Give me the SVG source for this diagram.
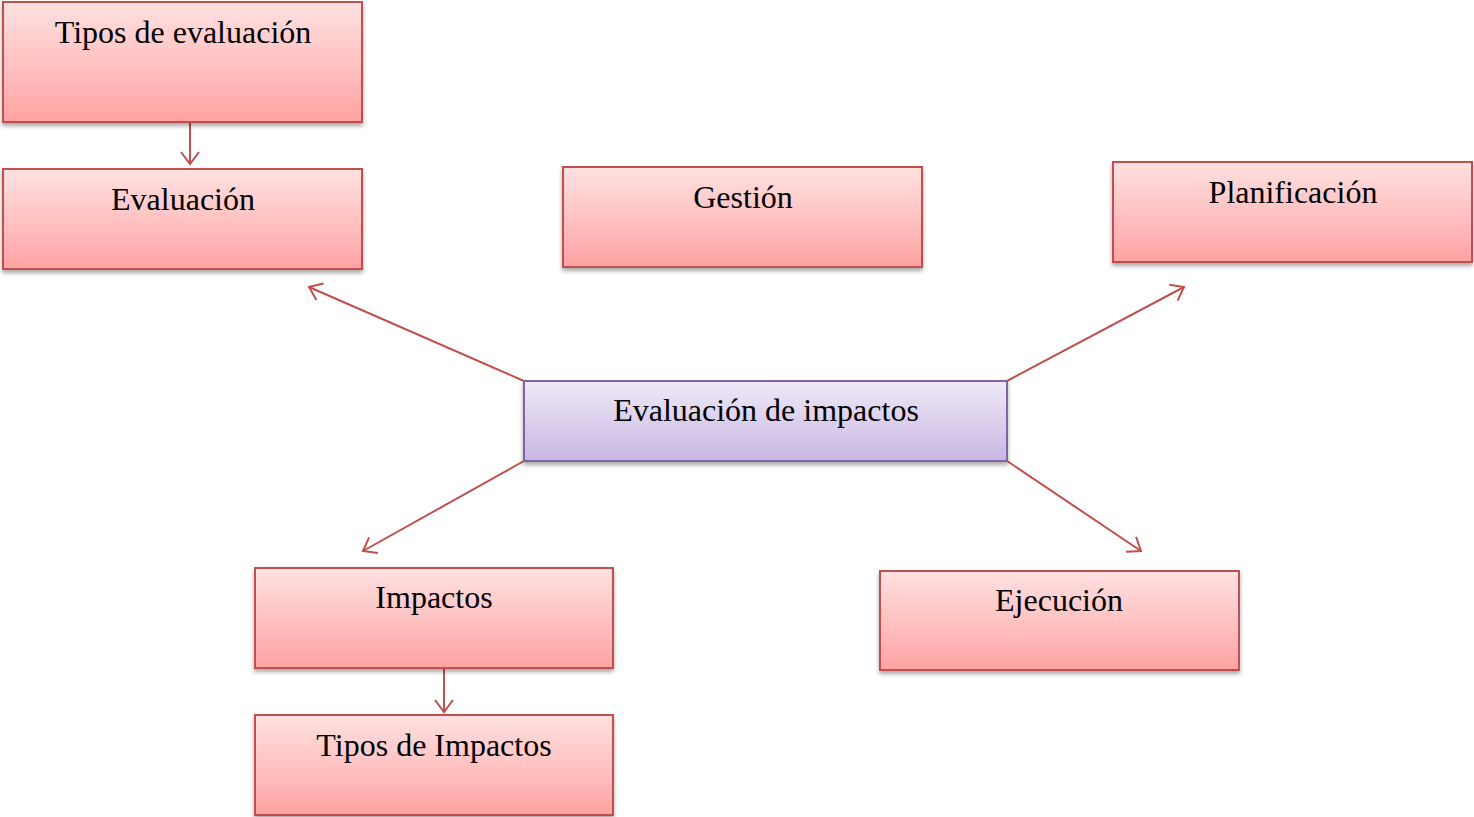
<svg xmlns="http://www.w3.org/2000/svg" width="1474" height="817" viewBox="0 0 1474 817">
<style>
.box{fill:url(#red);stroke:#c0504d;stroke-width:2;filter:url(#sh)}
.cbox{fill:url(#pur);stroke:#8064a2;stroke-width:2;filter:url(#sh)}
.t{font-family:"Liberation Serif","Times New Roman",serif;font-size:32px;fill:#000;text-anchor:middle}
.c{stroke:#c0504d;stroke-width:2;fill:none;marker-end:url(#ah)}
</style>
<defs>
<linearGradient id="red" x1="0" y1="0" x2="0" y2="1">
<stop offset="0" stop-color="#ffe1e1"/><stop offset="0.6" stop-color="#ffbcbc"/><stop offset="1" stop-color="#ffa2a2"/>
</linearGradient>
<linearGradient id="pur" x1="0" y1="0" x2="0" y2="1">
<stop offset="0" stop-color="#efeaf8"/><stop offset="1" stop-color="#c8b6e2"/>
</linearGradient>
<filter id="sh" x="-5%" y="-10%" width="110%" height="130%">
<feGaussianBlur in="SourceAlpha" stdDeviation="2"/>
<feOffset dx="0" dy="3" result="b"/>
<feComponentTransfer><feFuncA type="linear" slope="0.35"/></feComponentTransfer>
<feMerge><feMergeNode/><feMergeNode in="SourceGraphic"/></feMerge>
</filter>
<marker id="ah" markerWidth="24" markerHeight="24" refX="20" refY="12" orient="auto" markerUnits="userSpaceOnUse" viewBox="0 0 24 24">
<path d="M8,3 L20,12 L8,21" fill="none" stroke="#c0504d" stroke-width="2"/>
</marker>
</defs>
<g id="connectors">
<line class="c" x1="190" y1="122" x2="190" y2="164"/>
<line class="c" x1="524" y1="381" x2="309" y2="287"/>
<line class="c" x1="1007" y1="381" x2="1184" y2="287"/>
<line class="c" x1="524" y1="461" x2="363" y2="551"/>
<line class="c" x1="1007" y1="461" x2="1141" y2="551"/>
<line class="c" x1="444" y1="668" x2="444" y2="712"/>
</g>
<g id="n-tipos-eval"><rect class="box" x="3" y="2" width="359" height="120"/><text class="t" x="183" y="43">Tipos de evaluación</text></g>
<g id="n-evaluacion"><rect class="box" x="3" y="169" width="359" height="100"/><text class="t" x="183" y="210">Evaluación</text></g>
<g id="n-gestion"><rect class="box" x="563" y="167" width="359" height="100"/><text class="t" x="743" y="208">Gestión</text></g>
<g id="n-planificacion"><rect class="box" x="1113" y="162" width="359" height="100"/><text class="t" x="1293" y="203">Planificación</text></g>
<g id="n-central"><rect class="cbox" x="524" y="381" width="483" height="80"/><text class="t" x="766" y="421">Evaluación de impactos</text></g>
<g id="n-impactos"><rect class="box" x="255" y="568" width="358" height="100"/><text class="t" x="434" y="608">Impactos</text></g>
<g id="n-ejecucion"><rect class="box" x="880" y="571" width="359" height="99"/><text class="t" x="1059" y="611">Ejecución</text></g>
<g id="n-tipos-imp"><rect class="box" x="255" y="715" width="358" height="100"/><text class="t" x="434" y="756">Tipos de Impactos</text></g>
</svg>
